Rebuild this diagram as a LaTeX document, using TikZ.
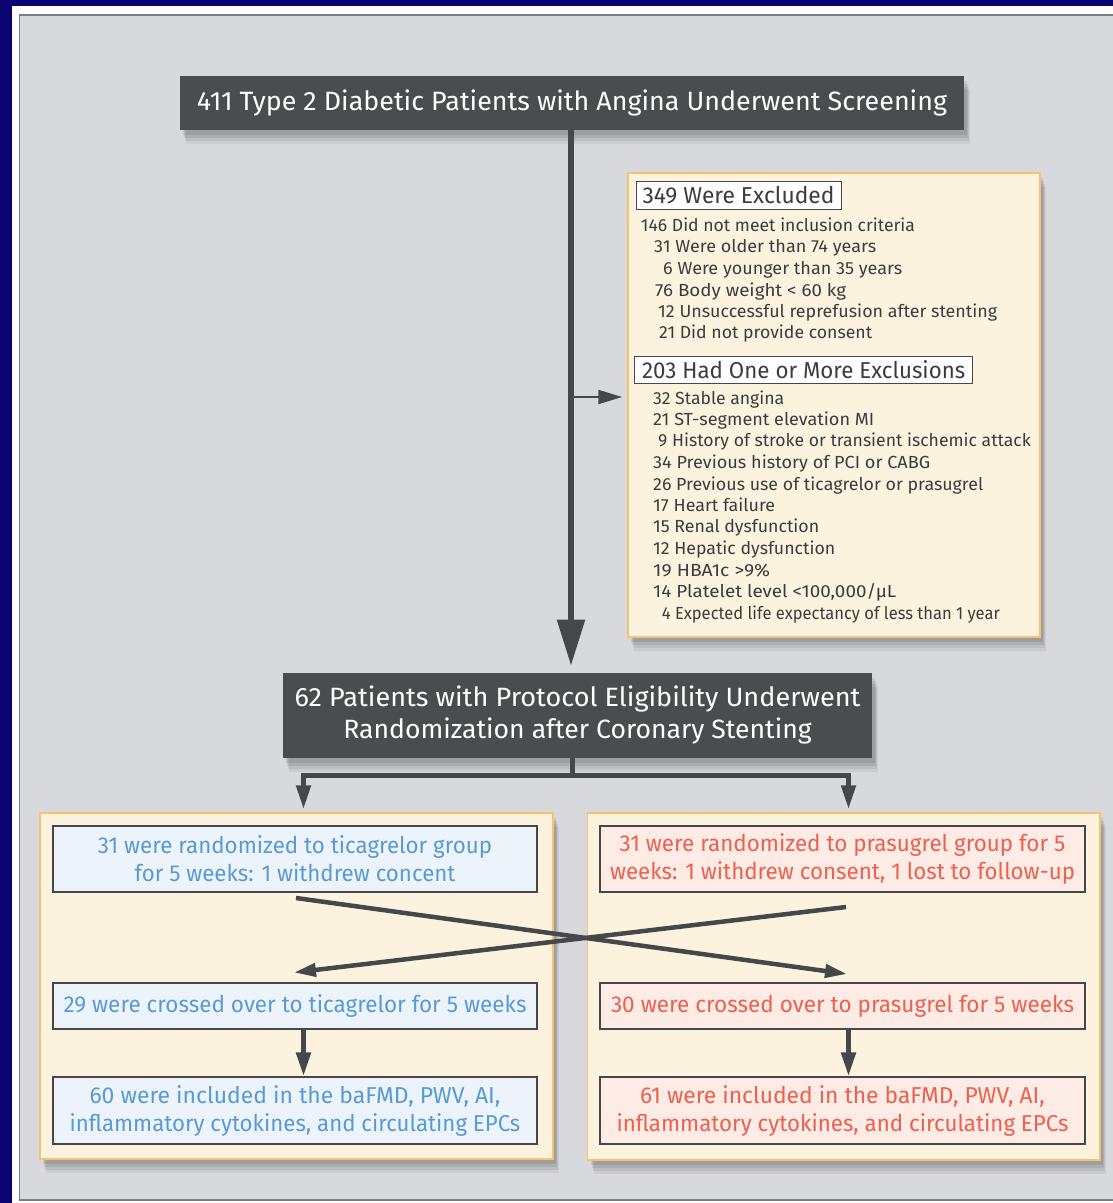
\documentclass[tikz,border=0pt]{standalone}
\usepackage{fontspec}
\setmainfont{Fira Sans}
\usetikzlibrary{arrows.meta,shadows}
\definecolor{navy}{RGB}{12,4,112}
\definecolor{panel}{RGB}{215,217,220}
\definecolor{panelline}{RGB}{125,125,128}
\definecolor{darkc}{RGB}{75,76,80}
\definecolor{cream}{RGB}{252,243,223}
\definecolor{creamedge}{RGB}{246,194,112}
\definecolor{bluetxt}{RGB}{88,155,212}
\definecolor{bluefill}{RGB}{237,243,251}
\definecolor{redtxt}{RGB}{236,96,78}
\definecolor{redfill}{RGB}{253,235,229}
\definecolor{ink}{RGB}{70,71,75}
\definecolor{txt}{RGB}{60,60,62}
\newlength\fitlen
\newcommand\fitw[2]{\settowidth\fitlen{#2}\pgfmathsetmacro\fitfac{#1/\fitlen}\scalebox{\fitfac}[1]{#2}}
\begin{document}
\begin{tikzpicture}[x=1pt,y=-1pt,
  shadowed/.style={
    drop shadow={shadow xshift=6pt,shadow yshift=-14pt,opacity=0.06,fill=black},
    drop shadow={shadow xshift=5pt,shadow yshift=-11pt,opacity=0.07,fill=black},
    drop shadow={shadow xshift=4pt,shadow yshift=-8pt,opacity=0.08,fill=black},
    drop shadow={shadow xshift=3pt,shadow yshift=-5pt,opacity=0.09,fill=black}},
  darkbox/.style={shadowed,fill=darkc,text=white,inner sep=0pt,align=center,font=\fontsize{26.5}{32}\selectfont},
  creambox/.style={shadowed,fill=cream,draw=creamedge,line width=1.5pt,inner sep=0pt},
  hdbox/.style={draw=ink,fill=white,line width=1pt,inner sep=0pt,text=txt,font=\fontsize{23}{27}\selectfont},
  listtxt/.style={anchor=base west,inner sep=0pt,text=txt,font=\fontsize{17.5}{21}\selectfont},
  grpbox/.style={draw=ink,line width=1.2pt,inner sep=0pt,align=center,font=\fontsize{23}{28}\selectfont},
  bluebox/.style={grpbox,fill=bluefill,text=bluetxt},
  redbox/.style={grpbox,fill=redfill,text=redtxt},
  bigarrow/.style={draw=ink,line width=5.5pt,-{Triangle[length=46pt,width=27pt]}},
  thinarrow/.style={draw=ink,line width=2pt,-{Triangle[length=24pt,width=14pt]}},
  medline/.style={draw=ink,line width=5pt},
  medarrow/.style={draw=ink,line width=5pt,line join=miter,-{Triangle[length=24pt,width=14pt]}},
  crossarrow/.style={draw=ink,line width=4.5pt,-{Triangle[length=22pt,width=13pt]}}
]
\useasboundingbox (0,0) rectangle (1113,1203);
\fill[navy] (0,0) rectangle (1113,1203);
\fill[white] (12,6) rectangle (1120,1210);
\filldraw[fill=panel,draw=panelline,line width=1.5pt] (19.5,15) rectangle (1125,1200);

% top boxes
\node[darkbox,minimum width=784pt,minimum height=54pt] (top) at (572,103)
  {\fitw{750}{411 Type 2 Diabetic Patients with Angina Underwent Screening}};
\node[darkbox,minimum width=589pt,minimum height=85pt] (elig) at (577.5,715.3)
  {\fitw{566}{62 Patients with Protocol Eligibility Underwent}\\
   \fitw{468.5}{Randomization after Coronary Stenting}};

% exclusion box
\node[creambox,minimum width=412pt,minimum height=464pt] (excl) at (834,405) {};
\node[hdbox,minimum width=205pt,minimum height=27.5pt] (h1) at (738.5,195.5) {\fitw{192}{349 Were Excluded}};
\node[listtxt] (e1) at (640.7,231.7) {\fitw{274}{146 Did not meet inclusion criteria}};
\node[listtxt] (e2) at (654,252.5) {\fitw{222}{31 Were older than 74 years}};
\node[listtxt] (e3) at (663,274.5) {\fitw{239}{6 Were younger than 35 years}};
\node[listtxt] (e4) at (655,296.5) {\fitw{191}{76 Body weight < 60 kg}};
\node[listtxt] (e5) at (658,317.7) {\fitw{339}{12 Unsuccessful reprefusion after stenting}};
\node[listtxt] (e6) at (659,338.5) {\fitw{213}{21 Did not provide consent}};
\node[hdbox,minimum width=338pt,minimum height=27pt] (h2) at (803.7,369.5) {\fitw{323}{203 Had One or More Exclusions}};
\node[listtxt] (f1) at (653,404) {\fitw{131}{32 Stable angina}};
\node[listtxt] (f2) at (653,425) {\fitw{221}{21 ST-segment elevation MI}};
\node[listtxt] (f3) at (658,446.5) {\fitw{372.7}{9 History of stroke or transient ischemic attack}};
\node[listtxt] (f4) at (653,468.5) {\fitw{277}{34 Previous history of PCI or CABG}};
\node[listtxt] (f5) at (653,490) {\fitw{330}{26 Previous use of ticagrelor or prasugrel}};
\node[listtxt] (f6) at (653,511) {\fitw{122}{17 Heart failure}};
\node[listtxt] (f7) at (653,532.5) {\fitw{166}{15 Renal dysfunction}};
\node[listtxt] (f8) at (653,554) {\fitw{182}{12 Hepatic dysfunction}};
\node[listtxt] (f9) at (653,576) {\fitw{117}{19 HBA1c >9\%}};
\node[listtxt] (f10) at (653,597) {\fitw{243}{14 Platelet level <100,000/μL}};
\node[listtxt] (f11) at (661.7,619) {\fitw{338}{4 Expected life expectancy of less than 1 year}};

% main connectors
\coordinate (mx) at (571,0);
\draw[bigarrow,shorten >=7pt] (top.south -| mx) -- (elig.north -| mx);
\coordinate (br) at (571,397);
\draw[thinarrow,shorten >=5pt] (br) -- (br -| excl.west);

% group boxes
\node[creambox,minimum width=513pt,minimum height=346pt] (gl) at (296.5,986) {};
\node[creambox,minimum width=512.5pt,minimum height=347pt] (gr) at (843.75,986.5) {};

\coordinate (jn) at (572,775.5);
\coordinate (la) at (303.5,775.5);
\coordinate (ra) at (848.5,775.5);
\draw[medline] (elig.south -| jn) -- (jn);
\draw[medarrow,shorten >=3pt] (jn) -| (la |- gl.north);
\draw[medarrow,shorten >=3pt] (jn) -| (ra |- gr.north);

\node[bluebox,minimum width=484pt,minimum height=66pt] (lb1) at (295,859)
  {\fitw{394}{31 were randomized to ticagrelor group}\\\fitw{321}{for 5 weeks: 1 withdrew concent}};
\node[bluebox,minimum width=484pt,minimum height=46pt] (lb2) at (295,1006)
  {\fitw{463}{29 were crossed over to ticagrelor for 5 weeks}};
\node[bluebox,minimum width=484pt,minimum height=67pt] (lb3) at (295,1110.5)
  {\fitw{411}{60 were included in the baFMD, PWV, AI,}\\\fitw{450.7}{inflammatory cytokines, and circulating EPCs}};
\node[redbox,minimum width=485pt,minimum height=66pt] (rb1) at (842.5,859)
  {\fitw{445.6}{31 were randomized to prasugrel group for 5}\\\fitw{465}{weeks: 1 withdrew consent, 1 lost to follow-up}};
\node[redbox,minimum width=485pt,minimum height=46pt] (rb2) at (842.5,1006)
  {\fitw{463}{30 were crossed over to prasugrel for 5 weeks}};
\node[redbox,minimum width=485pt,minimum height=67pt] (rb3) at (842.5,1110.5)
  {\fitw{404.7}{61 were included in the baFMD, PWV, AI,}\\\fitw{452}{inflammatory cytokines, and circulating EPCs}};

% crossover arrows
\coordinate (c1s) at (296,898);
\coordinate (c1e) at (847,974);
\coordinate (c2s) at (846,907);
\coordinate (c2e) at (294,972.5);
\draw[crossarrow] (c1s) -- (c1e);
\draw[crossarrow] (c2s) -- (c2e);

% follow-up arrows
\draw[medarrow] (la |- lb2.south) -- (la |- lb3.north);
\draw[medarrow] (ra |- rb2.south) -- (ra |- rb3.north);
\end{tikzpicture}
\end{document}
